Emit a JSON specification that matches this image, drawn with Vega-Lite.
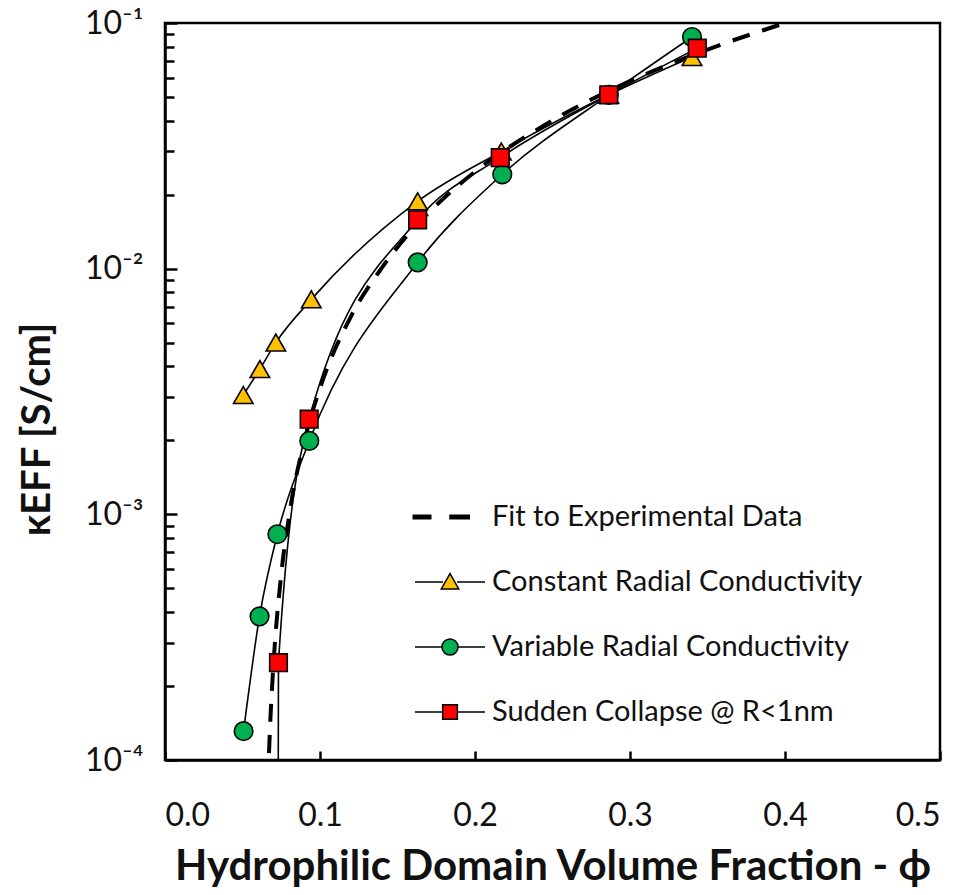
{
  "$schema": "https://vega.github.io/schema/vega-lite/v6.json",
  "autosize": {"type": "none"},
  "padding": {"left": 165, "top": 23, "right": 29, "bottom": 135},
  "width": 775,
  "height": 737,
  "background": "white",
  "config": {
    "view": {"stroke": "black", "strokeWidth": 2.5},
    "axis": {
      "grid": false,
      "domainColor": "black",
      "domainWidth": 2.5,
      "tickColor": "black",
      "tickWidth": 2.5,
      "labelFont": "Lato",
      "labelColor": "#111",
      "titleFont": "Lato",
      "titleColor": "#111",
      "titleFontWeight": "bold"
    }
  },
  "datasets": {
    "fit": [
      {"phi": 0.0662, "k": 0.00008},
      {"phi": 0.0669, "k": 0.0001},
      {"phi": 0.068, "k": 0.000147},
      {"phi": 0.07, "k": 0.000247},
      {"phi": 0.075, "k": 0.00057},
      {"phi": 0.08, "k": 0.00098},
      {"phi": 0.09, "k": 0.0020},
      {"phi": 0.1, "k": 0.00326},
      {"phi": 0.12, "k": 0.0064},
      {"phi": 0.14, "k": 0.0101},
      {"phi": 0.16, "k": 0.0145},
      {"phi": 0.18, "k": 0.0194},
      {"phi": 0.2, "k": 0.0248},
      {"phi": 0.25, "k": 0.0401},
      {"phi": 0.3, "k": 0.058},
      {"phi": 0.35, "k": 0.078},
      {"phi": 0.4, "k": 0.1},
      {"phi": 0.41, "k": 0.105}
    ],
    "models": [
      {"series": "Constant Radial Conductivity", "phi": 0.0505, "k": 0.00306},
      {"series": "Constant Radial Conductivity", "phi": 0.0612, "k": 0.0039},
      {"series": "Constant Radial Conductivity", "phi": 0.0715, "k": 0.0050},
      {"series": "Constant Radial Conductivity", "phi": 0.0944, "k": 0.0075},
      {"series": "Constant Radial Conductivity", "phi": 0.163, "k": 0.0188},
      {"series": "Constant Radial Conductivity", "phi": 0.217, "k": 0.0300},
      {"series": "Constant Radial Conductivity", "phi": 0.2863, "k": 0.0510},
      {"series": "Constant Radial Conductivity", "phi": 0.340, "k": 0.0727},
      {"series": "Variable Radial Conductivity", "phi": 0.0507, "k": 0.000131},
      {"series": "Variable Radial Conductivity", "phi": 0.061, "k": 0.000384},
      {"series": "Variable Radial Conductivity", "phi": 0.0725, "k": 0.00083},
      {"series": "Variable Radial Conductivity", "phi": 0.0931, "k": 0.00199},
      {"series": "Variable Radial Conductivity", "phi": 0.163, "k": 0.0106},
      {"series": "Variable Radial Conductivity", "phi": 0.2176, "k": 0.0242},
      {"series": "Variable Radial Conductivity", "phi": 0.2863, "k": 0.0510},
      {"series": "Variable Radial Conductivity", "phi": 0.340, "k": 0.0877},
      {"series": "Sudden Collapse @ R<1nm", "phi": 0.0728, "k": 0.00001},
      {"series": "Sudden Collapse @ R<1nm", "phi": 0.0732, "k": 0.000249},
      {"series": "Sudden Collapse @ R<1nm", "phi": 0.093, "k": 0.00244},
      {"series": "Sudden Collapse @ R<1nm", "phi": 0.163, "k": 0.0158},
      {"series": "Sudden Collapse @ R<1nm", "phi": 0.2163, "k": 0.0283},
      {"series": "Sudden Collapse @ R<1nm", "phi": 0.2863, "k": 0.0510},
      {"series": "Sudden Collapse @ R<1nm", "phi": 0.3434, "k": 0.079}
    ]
  },
  "layer": [
    {
      "data": {"name": "fit"},
      "mark": {"type": "line", "clip": true, "color": "black", "strokeWidth": 4, "strokeDash": [18, 13], "interpolate": "monotone"},
      "encoding": {
        "x": {
          "field": "phi", "type": "quantitative",
          "scale": {"domain": [0, 0.5], "nice": false, "zero": false},
          "axis": {
            "title": "Hydrophilic Domain Volume Fraction - ϕ",
            "values": [0, 0.1, 0.2, 0.3, 0.4, 0.5],
            "format": ".1f",
            "ticks": false,
            "labelPadding": 40,
            "labelFontSize": 32,
            "titleFontSize": 42,
            "titleBaseline": "alphabetic",
            "titleY": 119
          }
        },
        "y": {
          "field": "k", "type": "quantitative",
          "scale": {"type": "log", "domain": [0.0001, 0.1], "nice": false},
          "axis": {
            "title": "κEFF [S/cm]",
            "values": [0.0001, 0.001, 0.01, 0.1],
            "labelExpr": "datum.value == 0.1 ? '10⁻¹' : datum.value == 0.01 ? '10⁻²' : datum.value == 0.001 ? '10⁻³' : '10⁻⁴'",
            "labelOverlap": false,
            "ticks": false,
            "labelPadding": 22,
            "labelFontSize": 32,
            "titleFontSize": 40,
            "titleAngle": 270,
            "titleAlign": "center",
            "titleBaseline": "middle",
            "titleX": -128,
            "titleY": 406
          }
        }
      }
    },
    {
      "data": {"name": "models"},
      "mark": {"type": "line", "clip": true, "color": "black", "strokeWidth": 1.6, "interpolate": "monotone"},
      "encoding": {
        "x": {
          "field": "phi", "type": "quantitative",
          "axis": {"orient": "top", "offset": -737, "values": [0, 0.1, 0.2, 0.3, 0.4, 0.5], "labels": false, "domain": false, "title": null, "tickSize": 9}
        },
        "y": {
          "field": "k", "type": "quantitative",
          "axis": {
            "orient": "right", "offset": -775, "labels": false, "domain": false, "title": null,
            "values": [0.0001, 0.0002, 0.0003, 0.0004, 0.0005, 0.0006, 0.0007, 0.0008, 0.0009, 0.001, 0.002, 0.003, 0.004, 0.005, 0.006, 0.007, 0.008, 0.009, 0.01, 0.02, 0.03, 0.04, 0.05, 0.06, 0.07, 0.08, 0.09, 0.1],
            "tickSize": {"condition": {"test": "datum.value == 0.1 || datum.value == 0.01 || datum.value == 0.001 || datum.value == 0.0001", "value": 12}, "value": 9}
          }
        },
        "detail": {"field": "series"}
      }
    },
    {
      "data": {"name": "models"},
      "transform": [{"filter": "datum.k >= 0.0001"}],
      "mark": {"type": "point", "filled": true, "stroke": "black", "strokeWidth": 1.6, "opacity": 1, "clip": true},
      "encoding": {
        "x": {"field": "phi", "type": "quantitative", "axis": null},
        "y": {"field": "k", "type": "quantitative", "axis": null},
        "fill": {
          "field": "series", "type": "nominal",
          "scale": {"domain": ["Constant Radial Conductivity", "Variable Radial Conductivity", "Sudden Collapse @ R<1nm"], "range": ["#FFC000", "#00B050", "#FF0000"]},
          "legend": null
        },
        "shape": {
          "field": "series", "type": "nominal",
          "scale": {"domain": ["Constant Radial Conductivity", "Variable Radial Conductivity", "Sudden Collapse @ R<1nm"], "range": ["triangle-up", "circle", "square"]},
          "legend": null
        },
        "size": {
          "field": "series", "type": "nominal",
          "scale": {"domain": ["Constant Radial Conductivity", "Variable Radial Conductivity", "Sudden Collapse @ R<1nm"], "range": [380, 310, 270]},
          "legend": null
        }
      }
    },
    {
      "data": {"name": "models"},
      "transform": [{"filter": "datum.k >= 0.0001"}],
      "mark": {"type": "point", "filled": true, "opacity": 0},
      "encoding": {
        "x": {"field": "phi", "type": "quantitative", "axis": null},
        "y": {"field": "k", "type": "quantitative", "axis": null},
        "fill": {
          "field": "series", "type": "nominal",
          "scale": {"domain": ["Fit to Experimental Data", "Constant Radial Conductivity", "Variable Radial Conductivity", "Sudden Collapse @ R<1nm"], "range": ["black", "#FFC000", "#00B050", "#FF0000"]},
          "legend": {
            "title": null, "orient": "none", "legendX": 249, "legendY": 458, "padding": 0,
            "symbolSize": 4900, "symbolStrokeColor": "black", "symbolStrokeWidth": 1.5, "symbolOpacity": 1,
            "labelFont": "Lato", "labelFontSize": 29, "labelColor": "#111", "labelOffset": 6, "rowPadding": 14, "labelLimit": 500,
            "encode": {"symbols": {"update": {"stroke": {"value": "black"}, "strokeWidth": {"value": 1.5}, "opacity": {"value": 1}}}}
          }
        },
        "shape": {
          "field": "series", "type": "nominal",
          "scale": {"domain": ["Fit to Experimental Data", "Constant Radial Conductivity", "Variable Radial Conductivity", "Sudden Collapse @ R<1nm"], "range": [
            "M-1.05,-0.05H-0.55V0.05H-1.05Z M0,-0.05H0.55V0.05H0Z",
            "M-1,0H-0.2M0.2,0H1M0,-0.24L0.25,0.2L-0.25,0.2Z",
            "M-1,0H-0.23M0.23,0H1M0.23,0A0.23,0.23 0 1,1 -0.23,0A0.23,0.23 0 1,1 0.23,0Z",
            "M-1,0H-0.21M0.21,0H1M-0.21,-0.21H0.21V0.21H-0.21Z"
          ]},
          "legend": {
            "title": null, "orient": "none", "legendX": 249, "legendY": 458, "padding": 0,
            "symbolSize": 4900, "symbolStrokeColor": "black", "symbolStrokeWidth": 1.5, "symbolOpacity": 1,
            "labelFont": "Lato", "labelFontSize": 29, "labelColor": "#111", "labelOffset": 6, "rowPadding": 14, "labelLimit": 500,
            "encode": {"symbols": {"update": {"stroke": {"value": "black"}, "strokeWidth": {"value": 1.5}, "opacity": {"value": 1}}}}
          }
        }
      }
    }
  ],
  "resolve": {
    "scale": {"fill": "independent", "shape": "independent", "size": "independent"},
    "axis": {"x": "independent", "y": "independent"}
  }
}
